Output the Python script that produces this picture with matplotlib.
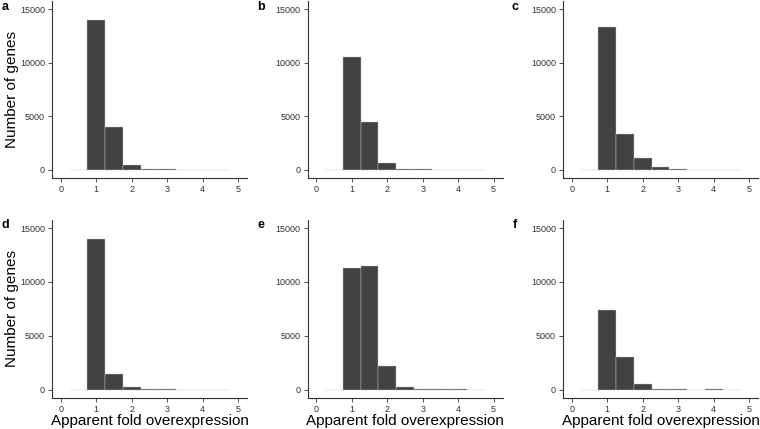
import matplotlib
matplotlib.use("Agg")
import matplotlib.pyplot as plt

plt.rcParams['font.family'] = ['Liberation Sans', 'DejaVu Sans']

bin_centers = [0.5, 1.0, 1.5, 2.0, 2.5, 3.0, 3.5, 4.0, 4.5]
counts_a = [5, 13950, 4000, 435, 60, 90, 10, 10, 5]
counts_b = [5, 10560, 4440, 650, 60, 100, 10, 20, 5]
counts_c = [5, 13350, 3390, 1120, 250, 90, 20, 20, 10]
counts_d = [5, 13950, 1430, 220, 20, 20, 10, 10, 5]
counts_e = [5, 11310, 11500, 2230, 250, 60, 15, 15, 5]
counts_f = [5, 7350, 3070, 530, 40, 80, 10, 40, 10]
panel_letters = ['a', 'b', 'c', 'd', 'e', 'f']
x_ticks = [0, 1, 2, 3, 4, 5]
y_ticks = [0, 5000, 10000, 15000]
xlabel = 'Apparent fold overexpression'
ylabel = 'Number of genes'

W, H = 760, 429
fig = plt.figure(figsize=(W / 100, H / 100), dpi=100)

all_counts = [counts_a, counts_b, counts_c, counts_d, counts_e, counts_f]
lefts = [52, 307.5, 563]
row_tops = [1, 220]
row_bottoms = [178, 397.7]
axw = 195
letter_x = [5, 261, 515]
letter_y = [7, 225]

for i, counts in enumerate(all_counts):
    r, c = divmod(i, 3)
    left = lefts[c] / W
    bottom = 1 - row_bottoms[r] / H
    height = (row_bottoms[r] - row_tops[r]) / H
    ax = fig.add_axes([left, bottom, axw / W, height])
    ax.bar(bin_centers, counts, width=0.5, color='#424242',
           edgecolor='#c4c4c4', linewidth=0.3)
    ax.set_xlim(-0.25, 5.25)
    ax.set_ylim(-750, 15750)
    ax.set_xticks(x_ticks)
    ax.set_yticks(y_ticks)
    for s in ['top', 'right']:
        ax.spines[s].set_visible(False)
    for s in ['left', 'bottom']:
        ax.spines[s].set_color('#333333')
        ax.spines[s].set_linewidth(0.8)
    ax.tick_params(axis='both', labelsize=6.5, length=3, width=0.6,
                   colors='#333333', pad=2)
    if c == 0:
        ax.set_ylabel(ylabel, fontsize=11, labelpad=0.5)
    if r == 1:
        ax.set_xlabel(xlabel, fontsize=11, labelpad=0.5)
    fig.text(letter_x[c] / W, 1 - letter_y[r] / H, panel_letters[i],
             fontsize=9, fontweight='bold', ha='center', va='center')

fig.savefig('out.png', dpi=100)
